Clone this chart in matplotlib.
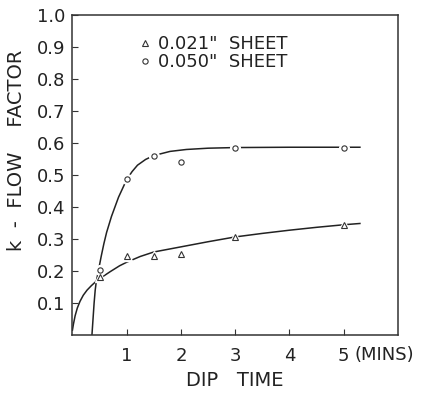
import numpy as np
import matplotlib.pyplot as plt
from matplotlib.transforms import blended_transform_factory

# measured points
dip_time = [0.5, 1.0, 1.5, 2.0, 3.0, 5.0]
k_021 = [0.18, 0.245, 0.245, 0.253, 0.307, 0.344]
k_050 = [0.203, 0.487, 0.56, 0.539, 0.583, 0.585]

# hand drawn curves
curve_021_x = [0.0, 0.02, 0.05, 0.09, 0.14, 0.2, 0.27, 0.35, 0.44, 0.54, 0.7, 0.87, 1.0,
               1.25, 1.5, 2.0, 2.5, 3.0, 3.5, 4.0, 4.5, 5.0, 5.3]
curve_021_y = [0.015, 0.035, 0.06, 0.084, 0.105, 0.124, 0.14, 0.154, 0.168, 0.18, 0.198, 0.216, 0.227,
               0.245, 0.259, 0.275, 0.291, 0.306, 0.317, 0.327, 0.336, 0.344, 0.348]
curve_050_x = [0.36, 0.38, 0.40, 0.42, 0.435, 0.45, 0.49, 0.53, 0.58, 0.63, 0.72, 0.85, 1.0,
               1.1, 1.2, 1.35, 1.5, 1.8, 2.1, 2.5, 3.0, 4.0, 5.0, 5.3]
curve_050_y = [0.0, 0.05, 0.10, 0.14, 0.16, 0.175, 0.21, 0.245, 0.285, 0.32, 0.37, 0.43, 0.485,
               0.51, 0.53, 0.548, 0.56, 0.573, 0.579, 0.583, 0.585, 0.586, 0.586, 0.586]

xticks = [1, 2, 3, 4, 5]
yticks = [0.1, 0.2, 0.3, 0.4, 0.5, 0.6, 0.7, 0.8, 0.9, 1.0]

plt.rcParams['font.family'] = 'DejaVu Sans'

fig = plt.figure(figsize=(4.26, 3.95), dpi=100)
ax = fig.add_axes([0.170, 0.152, 0.764, 0.811])

ax.plot(curve_021_x, curve_021_y, color='#222222', lw=1.1)
ax.plot(curve_050_x, curve_050_y, color='#222222', lw=1.1)

# white halo so the line breaks round each point
ax.plot(dip_time, k_021, ls='none', marker='^', ms=7, mfc='white', mec='white')
ax.plot(dip_time, k_050, ls='none', marker='o', ms=7, mfc='white', mec='white')
ax.plot(dip_time, k_021, ls='none', marker='^', ms=4, mfc='white', mec='#333333',
        mew=0.8, label='0.021"  SHEET')
ax.plot(dip_time, k_050, ls='none', marker='o', ms=3.8, mfc='white', mec='#333333',
        mew=0.8, label='0.050"  SHEET')

ax.set_xlim(0, 6)
ax.set_ylim(0, 1.0)
ax.set_xticks(xticks)
ax.set_xticklabels([str(t) for t in xticks])
ax.set_yticks(yticks)
ax.set_yticklabels(['%.1f' % t for t in yticks])
ax.tick_params(direction='in', length=4, width=0.8, color='#333333',
               labelsize=13, labelcolor='#222222')
ax.tick_params(axis='x', pad=9)
ax.tick_params(axis='y', pad=5)
for s in ax.spines.values():
    s.set_linewidth(1.1)
    s.set_color('#333333')

trans = blended_transform_factory(ax.transData, ax.transAxes)
ax.text(5.2, -0.0625, '(MINS)', transform=trans, fontsize=13, color='#222222',
        ha='left', va='center', clip_on=False)

ax.set_xlabel('DIP   TIME', fontsize=14, color='#222222', labelpad=4)
ax.set_ylabel('k  -  FLOW    FACTOR', fontsize=14, color='#222222')
ax.yaxis.set_label_coords(-0.143, 0.577)

ax.legend(loc='upper left', bbox_to_anchor=(0.18, 0.965), frameon=False, fontsize=13,
          handlelength=0.6, handletextpad=0.4, labelspacing=0.0, borderpad=0,
          labelcolor='#222222')

fig.savefig('out.png', dpi=100)
